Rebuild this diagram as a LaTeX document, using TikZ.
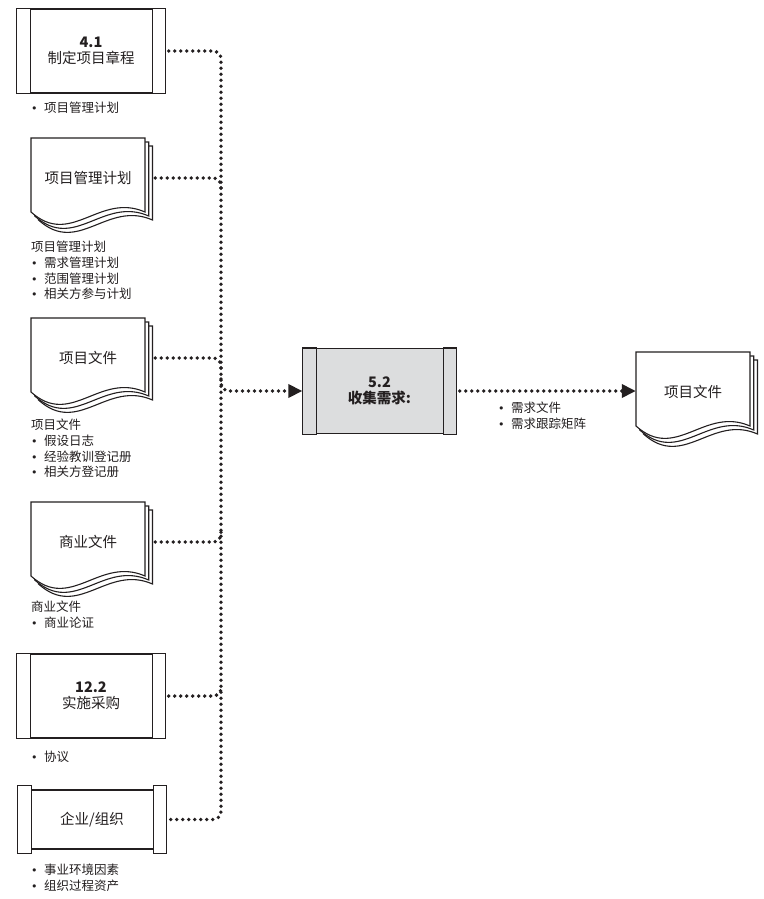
\documentclass[tikz,border=0pt]{standalone}
\usepackage{fontspec}
\newfontfamily\cjk{Noto Sans CJK SC}
\newfontfamily\dejavu{DejaVu Sans}
\usetikzlibrary{arrows.meta,calc}
\definecolor{ink}{HTML}{231F20}
\definecolor{procfill}{HTML}{DCDDDE}
\newcommand\bul{\makebox[13pt][l]{\dejavu\fontsize{11}{11}\selectfont •}}
\newcommand\docpage[4]{%
  \draw[docline] (#1-57+#3,#2-40+#4) -- (#1+57+#3,#2-40+#4) -- (#1+57+#3,#2+34+#4)
    .. controls (#1+11.4+#3,#2+14+#4) and (#1-17+#3,#2+70+#4) .. (#1-57+#3,#2+34+#4) -- cycle;}
\newcommand\docshape[2]{\docpage{#1}{#2}{7.5}{8}\docpage{#1}{#2}{3.75}{4}\docpage{#1}{#2}{0}{0}}
\begin{document}
\begin{tikzpicture}[x=1pt,y=-1pt,
  box/.style={draw=ink, line width=1.3pt, fill=white, inner sep=0pt,
    font=\cjk\fontsize{14.5}{16}\selectfont, text=ink, align=center},
  procbox/.style={box, minimum width=148pt, minimum height=84pt},
  strip/.style={draw=ink, line width=1.3pt, fill=white},
  docline/.style={draw=ink, line width=1.1pt, fill=white},
  docnode/.style={inner sep=0pt, minimum width=114pt, minimum height=80pt,
    font=\cjk\fontsize{14.5}{16}\selectfont, text=ink, align=center},
  lbl/.style={font=\cjk\fontsize{12.5}{15.7}\selectfont, text=ink, anchor=base west, inner sep=0pt},
  flow/.style={draw=ink, line width=3.8pt, line cap=round, dash pattern=on 0pt off 6pt, rounded corners=8pt},
  arr/.style={-{Triangle[length=14pt,width=13pt]}}
]
\useasboundingbox[fill=white] (0,0) rectangle (763,899);
\coordinate (trunk) at (221,0);

% process 4.1
\node[procbox] (p41) at (91,51) {\bfseries 4.1\\制定项目章程};
\draw[strip] (p41.north west) rectangle ([xshift=14pt]p41.south west);
\draw[strip] ([xshift=-13pt]p41.north east) rectangle (p41.south east);
\node[lbl] (l41) at (31,112.7) {\bul 项目管理计划};

% document: project management plan
\docshape{88}{178}
\node[docnode] (pmp) at (88,178) {项目管理计划};
\node[lbl] (lpmp) at (31,251.7) {\begin{tabular}[t]{@{}l@{}}项目管理计划\\\bul 需求管理计划\\\bul 范围管理计划\\\bul 相关方参与计划\end{tabular}};

% document: project documents
\docshape{88}{358}
\node[docnode] (pdoc) at (88,358) {项目文件};
\node[lbl] (lpdoc) at (31,429.7) {\begin{tabular}[t]{@{}l@{}}项目文件\\\bul 假设日志\\\bul 经验教训登记册\\\bul 相关方登记册\end{tabular}};

% document: business documents
\docshape{88}{542}
\node[docnode] (biz) at (88,542) {商业文件};
\node[lbl] (lbiz) at (31,611.7) {\begin{tabular}[t]{@{}l@{}}商业文件\\\bul 商业论证\end{tabular}};

% process 12.2
\node[procbox] (p122) at (91,696) {\bfseries 12.2\\实施采购};
\draw[strip] (p122.north west) rectangle ([xshift=14pt]p122.south west);
\draw[strip] ([xshift=-13pt]p122.north east) rectangle (p122.south east);
\node[lbl] (l122) at (31,761.7) {\bul 协议};

% enterprise
\node[box, minimum width=148pt, minimum height=59pt] (ent) at (92,819.5) {企业/组织};
\draw[strip] ($(ent.north west)+(0,-4)$) rectangle ($(ent.south west)+(14,4)$);
\draw[strip] ($(ent.north east)+(-13,-4)$) rectangle ($(ent.south east)+(0,4)$);
\node[lbl] (lent) at (31,874.7) {\begin{tabular}[t]{@{}l@{}}\bul 事业环境因素\\\bul 组织过程资产\end{tabular}};

% process 5.2
\node[box, fill=procfill, minimum width=153pt, minimum height=85pt] (p52) at (379.5,391) {\bfseries 5.2\\\bfseries 收集需求:};
\draw[strip, fill=procfill] (p52.north west) rectangle ([xshift=14pt]p52.south west);
\draw[strip, fill=procfill] ([xshift=-13pt]p52.north east) rectangle (p52.south east);

% output document
\docshape{693}{392}
\node[docnode] (out) at (693,392) {项目文件};
\node[lbl] (lout) at (498,412.7) {\begin{tabular}[t]{@{}l@{}}\bul 需求文件\\\bul 需求跟踪矩阵\end{tabular}};

% connectors
\draw[flow] ([xshift=3pt]p41.east) -- (p41.east -| trunk) -- (ent.east -| trunk) -- ([xshift=3pt]ent.east);
\draw[flow] ([xshift=10pt]pmp.east) -- (pmp.east -| trunk) -- ++(0,12);
\draw[flow] ([xshift=10pt]pdoc.east) -- (pdoc.east -| trunk) -- ++(0,12);
\draw[flow] ([xshift=10pt]biz.east) -- (biz.east -| trunk) -- ++(0,-10);
\draw[flow] ([xshift=3pt]p122.east) -- (p122.east -| trunk) -- ++(0,-10);
\draw[flow, arr] ($(p52.west -| trunk)+(0,-12)$) -- (p52.west -| trunk) -- (p52.west);
\draw[flow, arr] ([xshift=3pt]p52.east) -- (out.west |- p52.east);
\end{tikzpicture}
\end{document}
